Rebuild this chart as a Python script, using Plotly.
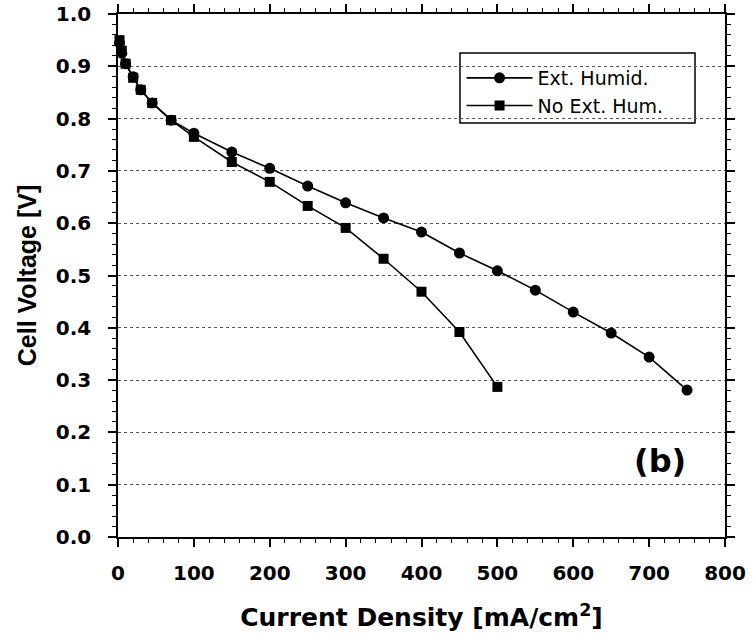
import plotly.graph_objects as go

ext_x = [2, 5, 10, 20, 30, 45, 70, 100, 150, 200, 250, 300, 350, 400, 450, 500, 550, 600, 650, 700, 750]
ext_y = [0.945, 0.925, 0.905, 0.88, 0.855, 0.83, 0.797, 0.772, 0.736, 0.705, 0.671, 0.639, 0.61, 0.583, 0.543, 0.509, 0.472, 0.43, 0.39, 0.344, 0.281]

no_x = [2, 5, 10, 20, 30, 45, 70, 100, 150, 200, 250, 300, 350, 400, 450, 500]
no_y = [0.95, 0.93, 0.905, 0.878, 0.855, 0.83, 0.797, 0.765, 0.717, 0.679, 0.633, 0.591, 0.532, 0.469, 0.392, 0.287]

x_ticks = [0, 100, 200, 300, 400, 500, 600, 700, 800]
y_ticks = [0.0, 0.1, 0.2, 0.3, 0.4, 0.5, 0.6, 0.7, 0.8, 0.9, 1.0]

DV = "DejaVu Sans, Arial, sans-serif"
LS = "Liberation Sans, Arial, sans-serif"

fig = go.Figure()
fig.add_trace(go.Scatter(x=ext_x, y=ext_y, mode="lines+markers", name="Ext. Humid.",
                         line=dict(color="black", width=1.6),
                         marker=dict(symbol="circle", size=11, color="black"),
                         cliponaxis=False))
fig.add_trace(go.Scatter(x=no_x, y=no_y, mode="lines+markers", name="No Ext. Hum.",
                         line=dict(color="black", width=1.6),
                         marker=dict(symbol="square", size=10, color="black"),
                         cliponaxis=False))

fig.update_layout(
    width=753, height=635,
    margin=dict(l=118, r=28, t=14, b=98, autoexpand=False),
    paper_bgcolor="white", plot_bgcolor="white",
    font=dict(family=DV, color="black"),
    showlegend=True,
    legend=dict(x=0.566, y=0.914, xanchor="left", yanchor="top",
                borderwidth=0, bgcolor="rgba(0,0,0,0)",
                font=dict(size=19, family=DV, color="black"),
                tracegroupgap=0, itemwidth=66),
    shapes=[dict(type="rect", xref="paper", yref="paper",
                 x0=0.5634, x1=0.9506, y0=0.7916, y1=0.9254,
                 line=dict(color="black", width=1.5), fillcolor="white", layer="below")],
    xaxis=dict(range=[0, 800], tickvals=x_ticks, ticktext=[str(v) for v in x_ticks],
               automargin=False,
               showgrid=False, zeroline=False,
               showline=True, linecolor="black", linewidth=1.6, mirror="ticks",
               ticks="outside", ticklen=8, tickwidth=1.6, tickcolor="black",
               ticklabelstandoff=9,
               minor=dict(dtick=20, ticks="outside", ticklen=4, tickwidth=1.2, tickcolor="black", showgrid=False),
               tickfont=dict(family=DV, size=20, color="black", weight="bold"),
               title=dict(text="Current Density [mA/cm<sup>2</sup>]", standoff=25,
                          font=dict(family=DV, size=25, color="black", weight="bold"))),
    yaxis=dict(range=[0, 1.0], tickvals=y_ticks, ticktext=["%.1f" % v for v in y_ticks],
               automargin=False,
               showgrid=True, gridcolor="#555555", griddash="dot", gridwidth=1.3,
               zeroline=False,
               showline=True, linecolor="black", linewidth=1.6, mirror="ticks",
               ticks="outside", ticklen=8, tickwidth=1.6, tickcolor="black",
               ticklabelstandoff=13,
               minor=dict(dtick=0.02, ticks="outside", ticklen=4, tickwidth=1.2, tickcolor="black", showgrid=False),
               tickfont=dict(family=DV, size=20, color="black", weight="bold"),
               title=dict(text="Cell Voltage [V]", standoff=12,
                          font=dict(family=LS, size=25, color="black", weight="bold"))),
    annotations=[dict(text="(b)", x=0.893, y=0.145, xref="paper", yref="paper",
                      showarrow=False, xanchor="center", yanchor="middle",
                      font=dict(family=DV, size=32, color="black", weight="bold"))],
)

fig.write_html("out.html")
